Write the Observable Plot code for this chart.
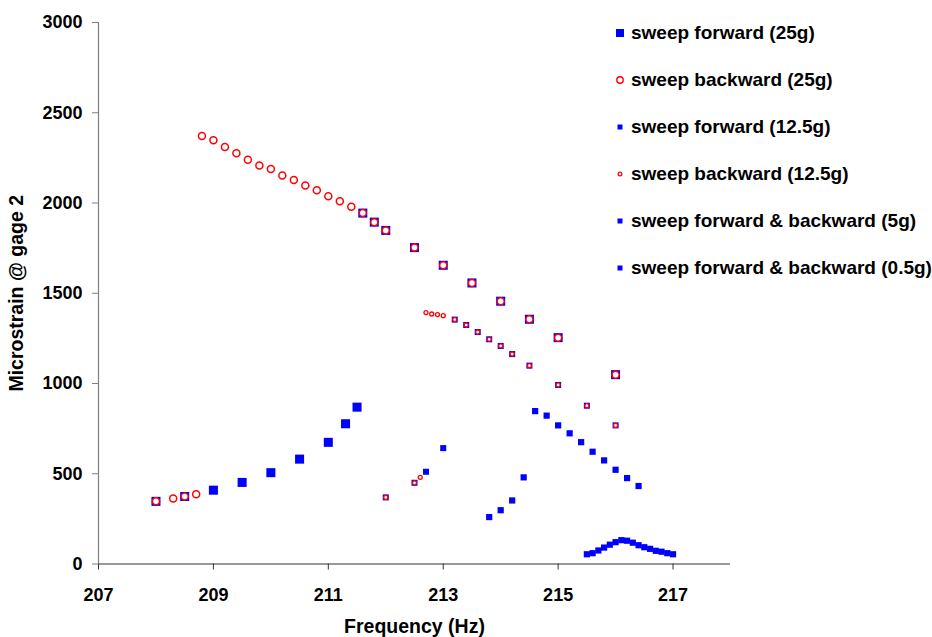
<!DOCTYPE html>
<html><head><meta charset="utf-8">
<script src="https://cdn.jsdelivr.net/npm/d3@7"></script>
<script src="https://cdn.jsdelivr.net/npm/@observablehq/plot@0.6"></script>
<style>
body{margin:0;background:#fff;}
#wrap{position:relative;width:932px;height:637px;font-family:"Liberation Sans",Arial,sans-serif;}
#legend{position:absolute;left:614px;top:9.5px;}
.row{display:flex;align-items:center;height:47px;font-weight:bold;font-size:19px;color:#000;white-space:nowrap;}
.mk{width:12px;height:12px;margin-right:5px;display:flex;align-items:center;justify-content:center;}
</style>
</head><body>
<div id="wrap"><div id="chart"></div><div id="legend"></div></div>
<script>
// Sweep forward (25g)
const fwd25X = [208, 208.5, 209, 209.5, 210, 210.5, 211, 211.3, 211.5, 211.6, 211.8, 212, 212.5, 213, 213.5, 214, 214.5, 215, 216];
const fwd25Y = [347, 374, 409, 452, 506, 581, 674, 777, 869, 1944, 1894, 1848, 1753, 1655, 1557, 1456, 1356, 1254, 1049];
// Sweep backward (25g)
const bwd25X = [216, 215, 214.5, 214, 213.5, 213, 212.5, 212, 211.8, 211.6, 211.4, 211.2, 211, 210.8, 210.6, 210.4, 210.2, 210, 209.8, 209.6, 209.4, 209.2, 209, 208.8, 208.7, 208.5, 208.3, 208];
const bwd25Y = [1049, 1254, 1356, 1456, 1557, 1655, 1753, 1848, 1894, 1944, 1979, 2010, 2038, 2071, 2097, 2127, 2153, 2188, 2208, 2239, 2276, 2310, 2347, 2371, 387, 374, 363, 347];
// Sweep forward (12.5g)
const fwd12X = [212, 212.5, 212.7, 213, 213.2, 213.4, 213.6, 213.8, 214, 214.2, 214.5, 215, 215.5, 216];
const fwd12Y = [369, 450, 511, 642, 1354, 1324, 1285, 1245, 1208, 1163, 1099, 992, 877, 768];
// Sweep backward (12.5g)
const bwd12X = [216, 215.5, 215, 214.5, 214.2, 214, 213.8, 213.6, 213.4, 213.2, 213, 212.9, 212.8, 212.7, 212.6, 212.5, 212];
const bwd12Y = [768, 877, 992, 1099, 1163, 1208, 1245, 1285, 1324, 1354, 1376, 1382, 1385, 1393, 480, 450, 369];
// Sweep forward & backward (5g)
const fb5X = [213.8, 214, 214.2, 214.4, 214.6, 214.8, 215, 215.2, 215.4, 215.6, 215.8, 216, 216.2, 216.4];
const fb5Y = [260, 298, 352, 480, 847, 822, 768, 724, 675, 622, 574, 522, 476, 432];
// Sweep forward & backward (0.5g)
const fb05X = [215.5, 215.6, 215.7, 215.8, 215.9, 216, 216.1, 216.2, 216.3, 216.4, 216.5, 216.6, 216.7, 216.8, 216.9, 217];
const fb05Y = [54, 60, 75, 91, 107, 121, 132, 129, 118, 104, 93, 84, 73, 68, 60, 54];

const seriesNames = ["sweep forward (25g)", "sweep backward (25g)", "sweep forward (12.5g)", "sweep backward (12.5g)", "sweep forward & backward (5g)", "sweep forward & backward (0.5g)"];
const xTicks = [207, 209, 211, 213, 215, 217];
const yTicks = [0, 500, 1000, 1500, 2000, 2500, 3000];
const xTitle = "Frequency (Hz)";
const yTitle = "Microstrain @ gage 2";

const pts = (xs, ys) => xs.map((x, i) => ({x, y: ys[i]}));
const BLUE = "#0000FF", RED = "#FF0000";

const chart = Plot.plot({
  width: 932, height: 637,
  marginLeft: 98, marginRight: 202, marginTop: 22, marginBottom: 73.5,
  style: {fontFamily: "'Liberation Sans', Arial, sans-serif", fontSize: "18px", fontWeight: "bold", color: "#000", background: "#fff"},
  x: {domain: [207, 218]},
  y: {domain: [0, 3000]},
  marks: [
    Plot.ruleY([0], {stroke: "#333", strokeWidth: 1.2}),
    Plot.ruleX([207], {stroke: "#808080", strokeWidth: 1.2}),
    Plot.axisX({ticks: xTicks, tickSize: 6, tickPadding: 18, stroke: "#333", fill: "#000", tickFormat: d => String(d), label: null}),
    Plot.axisX({ticks: [], label: xTitle, labelAnchor: "center", labelArrow: "none", labelOffset: 69, fontSize: 19.5, fill: "#000"}),
    Plot.axisY({ticks: yTicks, tickSize: 6, tickPadding: 10, stroke: "#808080", fill: "#000", tickFormat: d => String(d), label: null}),
    Plot.axisY({ticks: [], label: yTitle, labelAnchor: "center", labelArrow: "none", labelOffset: 89, fontSize: 19.5, fill: "#000"}),
    Plot.dot(pts(fwd25X, fwd25Y), {x: "x", y: "y", symbol: "square", r: 5.1, fill: BLUE, stroke: "none"}),
    Plot.dot(pts(bwd25X, bwd25Y), {x: "x", y: "y", symbol: "circle", r: 3.5, fill: "#fff", stroke: RED, strokeWidth: 1.5}),
    Plot.dot(pts(fwd12X, fwd12Y), {x: "x", y: "y", symbol: "square", r: 3.4, fill: BLUE, stroke: "none"}),
    Plot.dot(pts(bwd12X, bwd12Y), {x: "x", y: "y", symbol: "circle", r: 2.0, fill: "#fff", stroke: RED, strokeWidth: 1.3}),
    Plot.dot(pts(fb5X, fb5Y), {x: "x", y: "y", symbol: "square", r: 3.5, fill: BLUE, stroke: "none"}),
    Plot.dot(pts(fb05X, fb05Y), {x: "x", y: "y", symbol: "square", r: 3.5, fill: BLUE, stroke: "none"})
  ]
});
document.getElementById("chart").appendChild(chart);

const legendMarkers = [
  '<svg width="12" height="12"><rect x="2" y="2" width="8" height="8" fill="#0000FF"/></svg>',
  '<svg width="12" height="12"><circle cx="6" cy="6" r="3.2" fill="#fff" stroke="#FF0000" stroke-width="1.4"/></svg>',
  '<svg width="12" height="12"><rect x="3.5" y="3.5" width="5" height="5" fill="#0000FF"/></svg>',
  '<svg width="12" height="12"><circle cx="6" cy="6" r="1.9" fill="#fff" stroke="#FF0000" stroke-width="1.2"/></svg>',
  '<svg width="12" height="12"><rect x="3.5" y="3.5" width="5" height="5" fill="#0000FF"/></svg>',
  '<svg width="12" height="12"><rect x="3.5" y="3.5" width="5" height="5" fill="#0000FF"/></svg>'
];
const legend = document.getElementById("legend");
seriesNames.forEach((name, i) => {
  const row = document.createElement("div");
  row.className = "row";
  row.innerHTML = '<span class="mk">' + legendMarkers[i] + '</span><span>' + name + '</span>';
  legend.appendChild(row);
});
</script>
</body></html>
